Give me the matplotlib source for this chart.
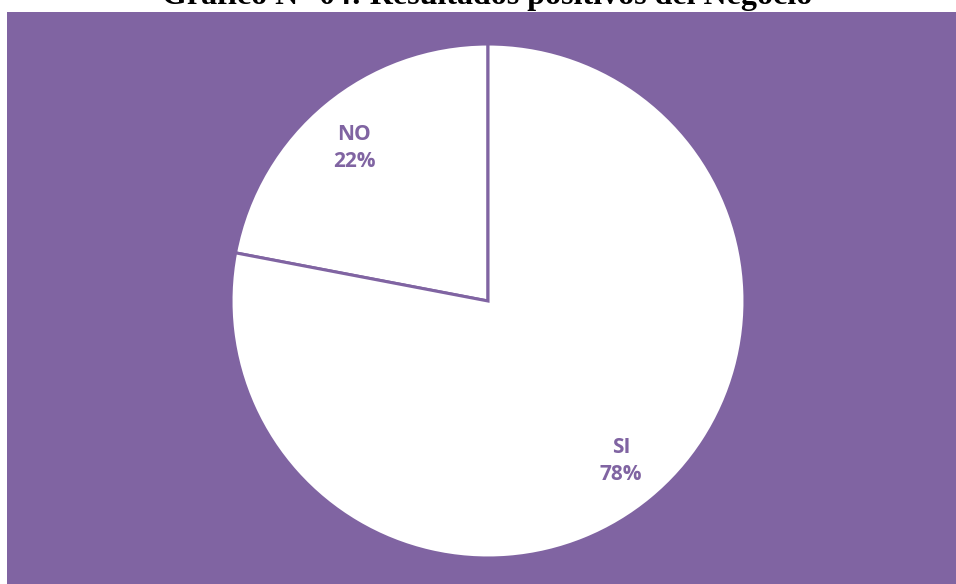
import matplotlib.pyplot as plt

categorias = ['NO', 'SI']
porcentajes = [22, 78]

morado = '#8064A2'

fig = plt.figure(figsize=(9.56, 5.84), dpi=100)
fig.patch.set_facecolor('white')

# panel morado del gráfico
ax = fig.add_axes([7 / 956, 0, 949 / 956, 572 / 584])
ax.set_facecolor(morado)

etiquetas = [f'{c}\n{p}%' for c, p in zip(categorias, porcentajes)]
wedges, textos = ax.pie(
    porcentajes, labels=etiquetas, startangle=90, counterclock=True,
    center=(481, 283), radius=257, labeldistance=0.8, frame=True,
    colors=['white', 'white'],
    wedgeprops=dict(edgecolor=morado, linewidth=2.2),
    textprops=dict(color=morado, fontsize=15, fontweight='bold',
                   family='Open Sans', ha='center', va='center',
                   linespacing=1.35),
)
# ligero ajuste de las etiquetas
textos[0].set_position((347, 436))
textos[1].set_position((614, 123))

ax.set_xlim(0, 949)
ax.set_ylim(0, 572)
ax.set_xticks([])
ax.set_yticks([])
for s in ax.spines.values():
    s.set_visible(False)

fig.text(487 / 956, 1 - 4 / 584, 'Gráfico N° 04: Resultados positivos del Negocio',
         ha='center', va='baseline', fontsize=23, fontweight='bold',
         family='Liberation Serif', color='black')

fig.savefig('out.png', dpi=100, facecolor=fig.get_facecolor())
